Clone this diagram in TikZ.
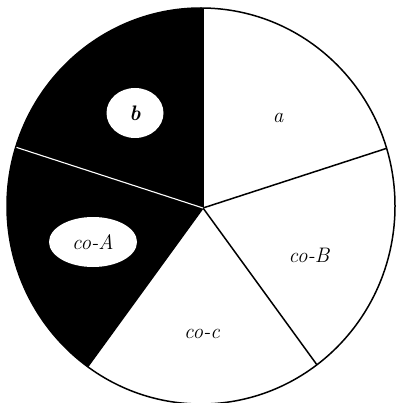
\documentclass[tikz,border=0pt]{standalone}
\usepackage{fontspec}
\usetikzlibrary{shapes.geometric}
\tikzset{
  lbl/.style={font=\fontsize{21}{25}\selectfont\itshape, inner sep=0pt},
  blob/.style={ellipse, fill=white, draw=none, inner sep=0pt, font=\fontsize{21}{25}\selectfont\itshape},
  spoke/.style={line width=1.5pt, black},
  wspoke/.style={line width=1.1pt, white},
  rim/.style={line width=1.5pt, black}
}
\newcommand{\dirp}[1]{({500*cos(#1)},{-500*sin(#1)})}
\begin{document}
\begin{tikzpicture}[x=1pt,y=-1pt]
\useasboundingbox[fill=white] (0,0) rectangle (396,403);
\coordinate (hub) at (203,208);
\coordinate (ctr) at (201,206);
\begin{scope}
  \clip (ctr) ellipse [x radius=194, y radius=198];
  \fill[black] (hub) -- +\dirp{90} -- +\dirp{162} -- +\dirp{234} -- cycle;
  \draw[spoke] (hub) -- +\dirp{18};
  \draw[spoke] (hub) -- +\dirp{-54};
  \draw[spoke] (hub) -- +\dirp{234};
  \draw[spoke] (hub) -- +\dirp{90};
  \draw[wspoke] (hub) -- +\dirp{162};
\end{scope}
\draw[rim] (ctr) ellipse [x radius=194, y radius=198];
\node[lbl] (a) at (278,118) {a};
\node[blob, minimum width=57pt, minimum height=50pt] (b) at (135,113) {\bfseries b};
\node[blob, minimum width=88pt, minimum height=50pt] (coA) at (93,242) {co-A};
\node[lbl] (coB) at (309,255) {co-B};
\node[lbl] (coc) at (202,334) {co-c};
\end{tikzpicture}
\end{document}
